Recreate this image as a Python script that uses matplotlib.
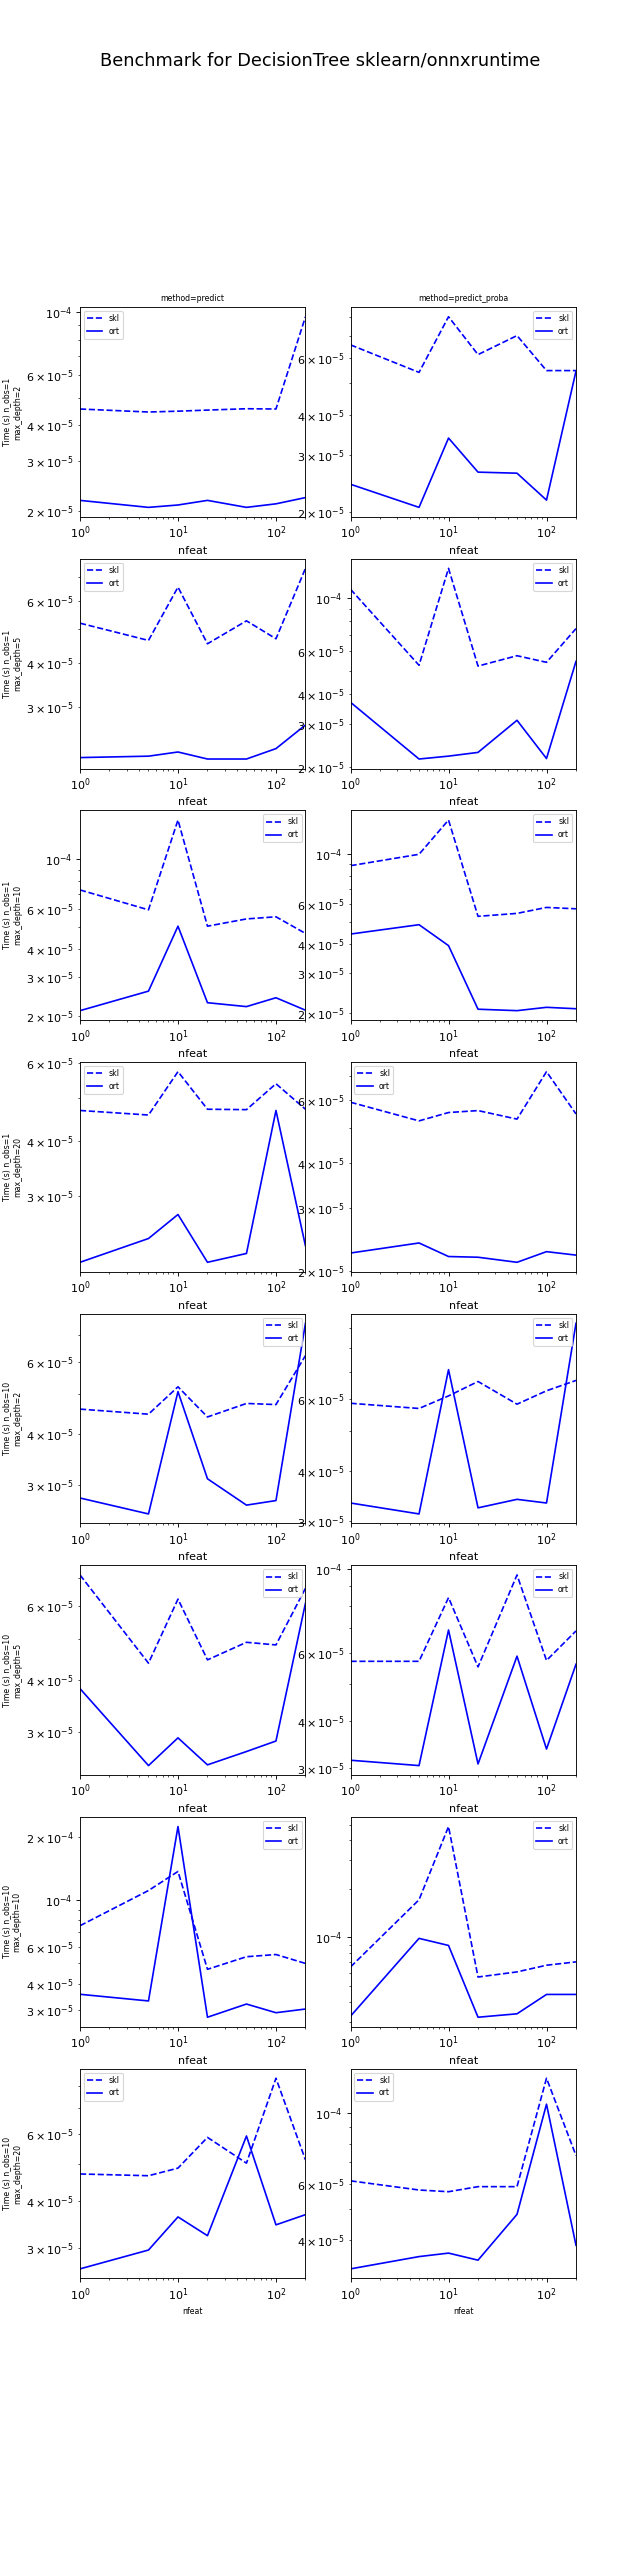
import matplotlib
matplotlib.use("Agg")
import matplotlib.pyplot as plt

# benchmark timings (seconds), one row per (n_obs, max_depth)
nfeat = [1, 5, 10, 20, 50, 100, 200]
n_obs = [1, 1, 1, 1, 10, 10, 10, 10]
max_depth = [2, 5, 10, 20, 2, 5, 10, 20]
methods = ["predict", "predict_proba"]

skl_predict = [
    [4.57, 4.46, 4.49, 4.53, 4.58, 4.57, 9.65],
    [5.18, 4.63, 6.55, 4.53, 5.26, 4.68, 7.40],
    [7.31, 5.96, 14.97, 5.04, 5.43, 5.55, 4.68],
    [4.68, 4.57, 5.73, 4.71, 4.70, 5.38, 4.71],
    [4.60, 4.47, 5.22, 4.40, 4.75, 4.72, 6.23],
    [7.10, 4.38, 6.22, 4.46, 4.91, 4.84, 6.60],
    [7.54, 11.08, 13.65, 4.68, 5.37, 5.50, 4.99],
    [4.70, 4.65, 4.87, 5.87, 5.02, 8.41, 5.12],
]
ort_predict = [
    [2.18, 2.06, 2.10, 2.18, 2.06, 2.12, 2.23],
    [2.16, 2.18, 2.24, 2.14, 2.14, 2.29, 2.67],
    [2.12, 2.59, 5.04, 2.30, 2.21, 2.42, 2.13],
    [2.12, 2.40, 2.72, 2.12, 2.22, 4.68, 2.31],
    [2.78, 2.54, 5.08, 3.10, 2.67, 2.74, 7.48],
    [3.81, 2.50, 2.91, 2.51, 2.70, 2.86, 6.08],
    [3.56, 3.31, 22.3, 2.77, 3.20, 2.91, 3.03],
    [2.64, 2.96, 3.62, 3.23, 5.92, 3.45, 3.67],
]
skl_proba = [
    [6.58, 5.41, 8.04, 6.14, 7.03, 5.48, 5.48],
    [10.82, 5.26, 13.2, 5.22, 5.76, 5.41, 7.45],
    [8.85, 9.93, 14.05, 5.30, 5.46, 5.80, 5.72],
    [5.92, 5.25, 5.54, 5.61, 5.31, 7.21, 5.49],
    [5.86, 5.69, 6.11, 6.63, 5.83, 6.29, 6.67],
    [5.72, 5.72, 8.40, 5.53, 9.63, 5.75, 6.87],
    [6.56, 17.1, 48.6, 5.68, 6.11, 6.72, 7.05],
    [6.12, 5.73, 5.66, 5.87, 5.87, 12.8, 7.34],
]
ort_proba = [
    [2.44, 2.07, 3.39, 2.66, 2.64, 2.18, 5.46],
    [3.70, 2.16, 2.22, 2.30, 3.12, 2.17, 5.46],
    [4.43, 4.87, 3.94, 2.07, 2.04, 2.11, 2.08],
    [2.24, 2.39, 2.19, 2.18, 2.11, 2.26, 2.21],
    [3.33, 3.13, 7.09, 3.24, 3.40, 3.33, 9.22],
    [3.15, 3.05, 6.91, 3.08, 5.90, 3.37, 5.62],
    [3.25, 9.86, 8.91, 3.20, 3.36, 4.43, 4.43],
    [3.25, 3.55, 3.64, 3.46, 4.81, 10.62, 3.85],
]
legend_loc = [
    ["upper left", "upper right"],
    ["upper left", "upper right"],
    ["upper right", "upper right"],
    ["upper left", "upper left"],
    ["upper right", "upper right"],
    ["upper right", "upper right"],
    ["upper right", "upper right"],
    ["upper left", "upper left"],
]

fig, ax = plt.subplots(8, 2, figsize=(8, 32))
for i in range(8):
    for j, (skl, ort) in enumerate([(skl_predict, ort_predict), (skl_proba, ort_proba)]):
        a = ax[i, j]
        a.plot(nfeat, [v * 1e-5 for v in skl[i]], "--", color="blue", label="skl")
        a.plot(nfeat, [v * 1e-5 for v in ort[i]], "-", color="blue", label="ort")
        a.set_xscale("log")
        a.set_yscale("log")
        a.set_xlim(min(nfeat), max(nfeat))
        a.legend(loc=legend_loc[i][j], fontsize="x-small")
        if i == 7:
            a.set_xlabel("nfeat", fontsize="x-small")
        else:
            a.set_xlabel("nfeat")
        if i == 0:
            a.set_title("method=%s" % methods[j], fontsize="x-small")
        if j == 0:
            a.set_ylabel("Time (s) n_obs=%d\nmax_depth=%d" % (n_obs[i], max_depth[i]),
                         fontsize="x-small")

fig.suptitle("Benchmark for DecisionTree sklearn/onnxruntime", fontsize=16)
fig.savefig("out.png", dpi=80)
